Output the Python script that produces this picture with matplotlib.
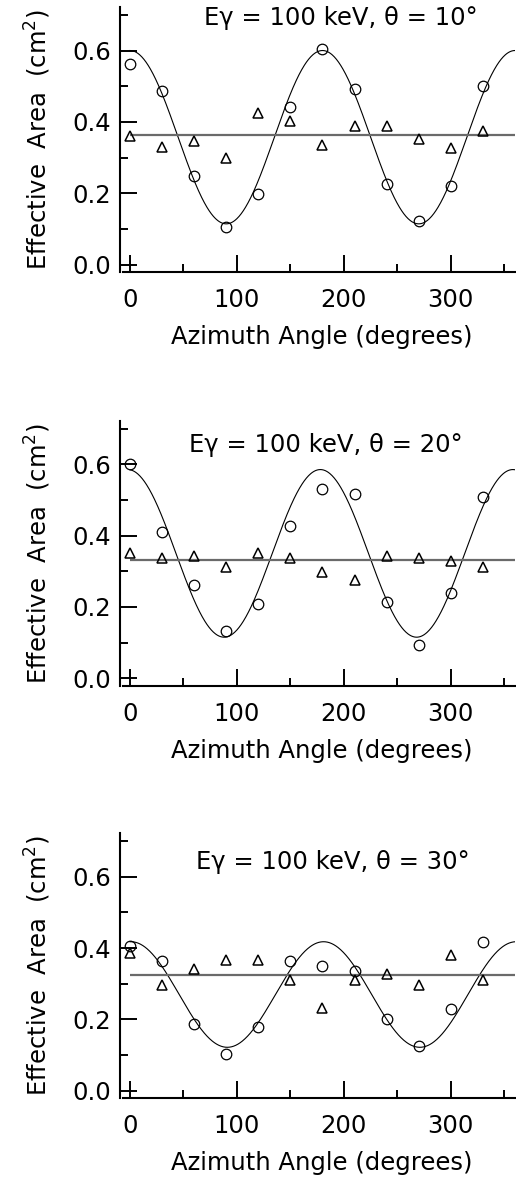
import numpy as np
import matplotlib
matplotlib.use("Agg")
import matplotlib.pyplot as plt
from matplotlib.ticker import FormatStrFormatter

plt.rcParams['font.family'] = ['DejaVu Sans']
plt.rcParams['mathtext.fontset'] = 'dejavusans'

# ---------------- data ----------------
azimuth = [0, 30, 60, 90, 120, 150, 180, 210, 240, 270, 300, 330]

titles = ["E\u03b3 = 100 keV, \u03b8 = 10\u00b0",
          "E\u03b3 = 100 keV, \u03b8 = 20\u00b0",
          "E\u03b3 = 100 keV, \u03b8 = 30\u00b0"]

circles_10 = [0.561, 0.487, 0.248, 0.105, 0.197, 0.442, 0.605, 0.493, 0.226, 0.121, 0.219, 0.501]
triangles_10 = [0.360, 0.330, 0.345, 0.300, 0.425, 0.403, 0.335, 0.389, 0.389, 0.351, 0.328, 0.374]

circles_20 = [0.600, 0.411, 0.260, 0.132, 0.208, 0.426, 0.531, 0.516, 0.215, 0.094, 0.238, 0.509]
triangles_20 = [0.351, 0.337, 0.343, 0.313, 0.351, 0.337, 0.297, 0.275, 0.343, 0.337, 0.328, 0.313]

circles_30 = [0.405, 0.364, 0.186, 0.103, 0.178, 0.364, 0.351, 0.336, 0.200, 0.126, 0.230, 0.417]
triangles_30 = [0.386, 0.298, 0.342, 0.366, 0.366, 0.311, 0.231, 0.311, 0.328, 0.298, 0.380, 0.311]

# modulation-curve fit parameters: offset, amplitude, phase (deg)
fit_offset = [0.357, 0.350, 0.270]
fit_amplitude = [0.243, 0.235, 0.148]
fit_phase = [0.0, -2.0, 1.0]

# constant fit to the triangles
const_level = [0.363, 0.332, 0.324]

circles = [circles_10, circles_20, circles_30]
triangles = [triangles_10, triangles_20, triangles_30]

x_ticks = [0, 100, 200, 300]
x_minor = [50, 150, 250, 350]
y_ticks = [0.0, 0.2, 0.4, 0.6]
y_minor = [0.1, 0.3, 0.5, 0.7]

# ---------------- layout ----------------
W, H = 516, 1178
fig = plt.figure(figsize=(W / 100, H / 100), dpi=100)

tops_px = [7, 420.7, 833.3]
ax_h = 265
left_px, right_px = 119.5, 515
title_pos = [(0.56, 0.958), (0.522, 0.909), (0.54, 0.89)]

FS = 17.5
phi = np.linspace(0, 360, 721)

for i in range(3):
    t = tops_px[i]
    ax = fig.add_axes([left_px / W, 1 - (t + ax_h) / H,
                       (right_px - left_px) / W, ax_h / H])
    curve = fit_offset[i] + fit_amplitude[i] * np.cos(np.radians(2 * (phi - fit_phase[i])))
    ax.plot(phi, curve, color='black', lw=0.8, zorder=2)
    ax.hlines(const_level[i], 0, 360, color='#6a6a6a', lw=1.6, zorder=2)
    ax.plot(azimuth, circles[i], 'o', ms=7.6, mfc='none', mec='black', mew=0.9, zorder=3)
    ax.plot(azimuth, triangles[i], '^', ms=7.6, mfc='none', mec='black', mew=1.1, zorder=3)

    ax.set_xlim(-9.8, 360)
    ax.set_ylim(-0.021, 0.722)
    for s in ['top', 'right']:
        ax.spines[s].set_visible(False)
    for s in ['left', 'bottom']:
        ax.spines[s].set_linewidth(1.5)
    ax.spines['bottom'].set_bounds(-6.8, 360)

    ax.set_xticks(x_ticks)
    ax.set_xticks(x_minor, minor=True)
    ax.set_yticks(y_ticks)
    ax.set_yticks(y_minor, minor=True)
    ax.yaxis.set_major_formatter(FormatStrFormatter('%.1f'))
    ax.tick_params(which='major', direction='in', length=12, width=1.4, labelsize=FS)
    ax.tick_params(which='minor', direction='in', length=6, width=1.4)
    ax.tick_params(axis='x', which='major', pad=11.5)
    ax.tick_params(axis='y', which='major', pad=6)

    ax.set_ylabel("Effective  Area  (cm$^{2}$)", fontsize=FS)
    ax.yaxis.label.set_va('center')
    ax.yaxis.set_label_coords((38 - left_px) / (right_px - left_px), 0.5)
    ax.set_xlabel("Azimuth Angle (degrees)", fontsize=FS)
    ax.xaxis.label.set_va('center')
    ax.xaxis.set_label_coords((322 - left_px) / (right_px - left_px), -65 / ax_h)

    ax.text(title_pos[i][0], title_pos[i][1], titles[i], transform=ax.transAxes,
            ha='center', va='center', fontsize=FS)

fig.savefig("out.png", dpi=100)
